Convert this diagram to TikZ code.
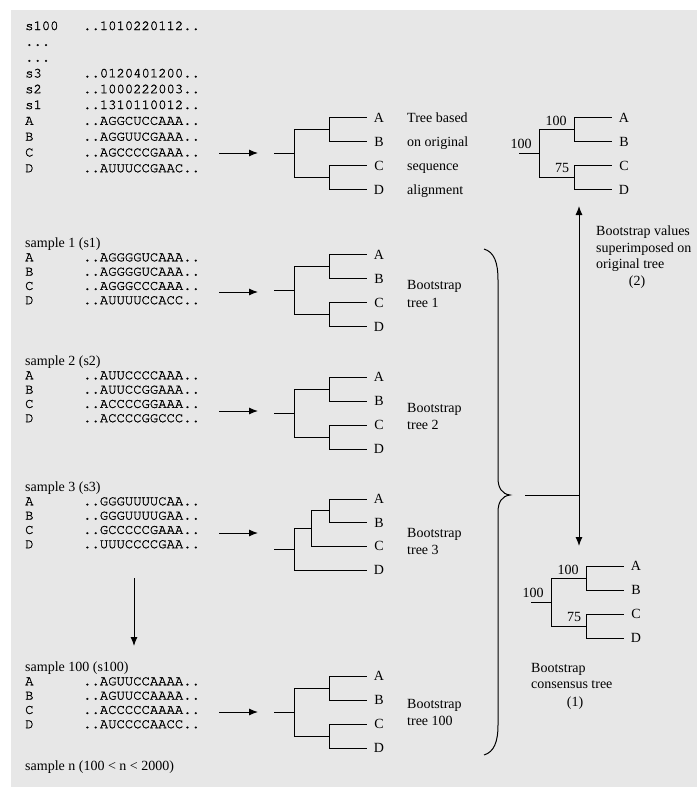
\documentclass[tikz,border=0pt]{standalone}
\usepackage{fontspec}
\setmainfont{Liberation Serif}
\newfontfamily\seqmono[FakeBold=1.2]{TeX Gyre Cursor}
\usetikzlibrary{arrows.meta}
\definecolor{bggray}{RGB}{231,231,231}
\newcommand{\balTree}[3]{%
  \begin{scope}[shift={(#1,#2)}]
    \draw[branch] (0,36) -- (20,36) (20,12) -- (20,60) (20,12) -- (55,12) (20,60) -- (55,60)
      (55,0) -- (55,24) (55,48) -- (55,72)
      (55,0) -- (93,0) (55,24) -- (93,24) (55,48) -- (93,48) (55,72) -- (93,72);
    \node[leaf] (#3A) at (105,0) {A};
    \node[leaf] (#3B) at (105,24) {B};
    \node[leaf] (#3C) at (105,48) {C};
    \node[leaf] (#3D) at (105,72) {D};
  \end{scope}}
\newcommand{\valTree}[3]{%
  \balTree{#1}{#2}{#3}
  \begin{scope}[shift={(#1,#2)}]
    \node[ctr] (#3v1) at (37,8) {100};
    \node[ctr] (#3v2) at (2,31) {100};
    \node[ctr] (#3v3) at (43,55) {75};
  \end{scope}}
\newcommand{\seqBlock}[7]{% name, title, title baseline, A,B,C,D sequences
  \node[lbl] (#1t) at (25,#3) {#2};
  \node[seqtxt] (#1a) at (25,#3+14.3) {A};  \node[seqtxt] (#1as) at (83,#3+14.3) {#4};
  \node[seqtxt] (#1b) at (25,#3+28.6) {B};  \node[seqtxt] (#1bs) at (83,#3+28.6) {#5};
  \node[seqtxt] (#1c) at (25,#3+42.9) {C};  \node[seqtxt] (#1cs) at (83,#3+42.9) {#6};
  \node[seqtxt] (#1d) at (25,#3+57.2) {D};  \node[seqtxt] (#1ds) at (83,#3+57.2) {#7};}
\begin{document}
\begin{tikzpicture}[x=1pt,y=-1pt,
  seqtxt/.style={font=\seqmono\fontsize{13.9}{16}\selectfont, anchor=base west, inner sep=0pt},
  lbl/.style={font=\fontsize{14}{17}\selectfont, anchor=base west, inner sep=0pt},
  ctr/.style={font=\fontsize{14}{17}\selectfont, anchor=base, inner sep=0pt},
  leaf/.style={font=\fontsize{14}{17}\selectfont, anchor=center, inner sep=0pt},
  branch/.style={line width=1pt},
  arr/.style={line width=1pt, -{Latex[length=9pt,width=7pt]}},
  dblarr/.style={line width=1pt, {Latex[length=9pt,width=7pt]}-{Latex[length=9pt,width=7pt]}},
  bracestyle/.style={line width=1pt},
]
\useasboundingbox (0,0) rectangle (697,787);
\fill[bggray] (11,10) rectangle (697,787);

% top block: original alignment
\node[seqtxt] (r1) at (25,30) {s100};  \node[seqtxt] (r1s) at (83,30) {..1010220112..};
\node[seqtxt] (r2) at (25,45.8) {...};
\node[seqtxt] (r3) at (25,61.6) {...};
\node[seqtxt] (r4) at (25,77.4) {s3};    \node[seqtxt] (r4s) at (83,77.4) {..0120401200..};
\node[seqtxt] (r5) at (25,93.2) {s2};    \node[seqtxt] (r5s) at (83,93.2) {..1000222003..};
\node[seqtxt] (r6) at (25,109) {s1};     \node[seqtxt] (r6s) at (83,109) {..1310110012..};
\node[seqtxt] (r7) at (25,124.8) {A};    \node[seqtxt] (r7s) at (83,124.8) {..AGGCUCCAAA..};
\node[seqtxt] (r8) at (25,140.6) {B};    \node[seqtxt] (r8s) at (83,140.6) {..AGGUUCGAAA..};
\node[seqtxt] (r9) at (25,156.4) {C};    \node[seqtxt] (r9s) at (83,156.4) {..AGCCCCGAAA..};
\node[seqtxt] (r10) at (25,172.2) {D};   \node[seqtxt] (r10s) at (83,172.2) {..AUUUCCGAAC..};

\coordinate (a0s) at (219,153); \coordinate (a0e) at (258,153);
\draw[arr] (a0s) -- (a0e);
\balTree{274}{117.5}{t0}
\node[lbl] (t0l1) at (407,122) {Tree based};
\node[lbl] (t0l2) at (407,146) {on original};
\node[lbl] (t0l3) at (407,170) {sequence};
\node[lbl] (t0l4) at (407,194) {alignment};

% top-right tree with bootstrap values
\valTree{519}{117.5}{tr}

% sample 1
\seqBlock{s1}{sample 1 (s1)}{247}{..AGGGGUCAAA..}{..AGGGGUCAAA..}{..AGGGCCCAAA..}{..AUUUUCCACC..}
\coordinate (a1s) at (219,292); \coordinate (a1e) at (258,292);
\draw[arr] (a1s) -- (a1e);
\balTree{274}{254.5}{t1}
\node[lbl] (t1l1) at (407,289.5) {Bootstrap};
\node[lbl] (t1l2) at (407,307) {tree 1};

% sample 2
\seqBlock{s2}{sample 2 (s2)}{365}{..AUUCCCCAAA..}{..AUUCCGGAAA..}{..ACCCCGGAAA..}{..ACCCCGGCCC..}
\coordinate (a2s) at (219,411); \coordinate (a2e) at (258,411);
\draw[arr] (a2s) -- (a2e);
\balTree{274}{377}{t2}
\node[lbl] (t2l1) at (407,412) {Bootstrap};
\node[lbl] (t2l2) at (407,429.5) {tree 2};

% sample 3
\seqBlock{s3}{sample 3 (s3)}{491}{..GGGUUUUCAA..}{..GGGUUUUGAA..}{..GCCCCCGAAA..}{..UUUCCCCGAA..}
\coordinate (a3s) at (219,533); \coordinate (a3e) at (258,533);
\draw[arr] (a3s) -- (a3e);
\begin{scope}[shift={(274,499)}]
  \draw[branch] (0,50.3) -- (20,50.3) (20,29.6) -- (20,71) (20,29.6) -- (37,29.6) (20,71) -- (93,71)
    (37,11.85) -- (37,47.3) (37,11.85) -- (55,11.85) (37,47.3) -- (93,47.3)
    (55,0) -- (55,23.7) (55,0) -- (93,0) (55,23.7) -- (93,23.7);
  \node[leaf] (t3A) at (105,0) {A};
  \node[leaf] (t3B) at (105,23.7) {B};
  \node[leaf] (t3C) at (105,47.3) {C};
  \node[leaf] (t3D) at (105,71) {D};
\end{scope}
\node[lbl] (t3l1) at (407,537.5) {Bootstrap};
\node[lbl] (t3l2) at (407,554.5) {tree 3};

% down arrow between samples
\coordinate (vs) at (134,578); \coordinate (ve) at (134,646);
\draw[arr] (vs) -- (ve);

% sample 100
\seqBlock{s100}{sample 100 (s100)}{671}{..AGUUCCAAAA..}{..AGUUCCAAAA..}{..ACCCCCAAAA..}{..AUCCCCAACC..}
\coordinate (a4s) at (219,712); \coordinate (a4e) at (258,712);
\draw[arr] (a4s) -- (a4e);
\balTree{274}{676}{t4}
\node[lbl] (t4l1) at (407,708.5) {Bootstrap};
\node[lbl] (t4l2) at (407,725.5) {tree 100};

\node[lbl] (sn) at (25,770) {sample n (100 < n < 2000)};

% brace
\coordinate (bt) at (484,249);
\coordinate (bm) at (510,495);
\coordinate (bb) at (484,755);
\draw[bracestyle] (bt) .. controls (494,252) and (498,262) .. (498,280) -- (498,478)
  .. controls (498,488) and (502,494) .. (bm)
  .. controls (502,496) and (498,502) .. (498,512) -- (498,725)
  .. controls (498,742) and (494,752) .. (bb);

% connector to vertical double arrow
\coordinate (hs) at (525,495); \coordinate (he) at (579,495);
\coordinate (vu) at (579,206); \coordinate (vd) at (579,546);
\draw[line width=1pt] (hs) -- (he);
\draw[dblarr] (vu) -- (vd);

\node[lbl] (bv1) at (596,235.5) {Bootstrap values};
\node[lbl] (bv2) at (596,252) {superimposed on};
\node[lbl] (bv3) at (596,268.5) {original tree};
\node[ctr] (bv4) at (637,285.5) {(2)};

% consensus tree
\valTree{531}{566}{cs}
\node[lbl] (cl1) at (531,672) {Bootstrap};
\node[lbl] (cl2) at (531,688.5) {consensus tree};
\node[ctr] (cl3) at (575,706) {(1)};
\end{tikzpicture}
\end{document}
